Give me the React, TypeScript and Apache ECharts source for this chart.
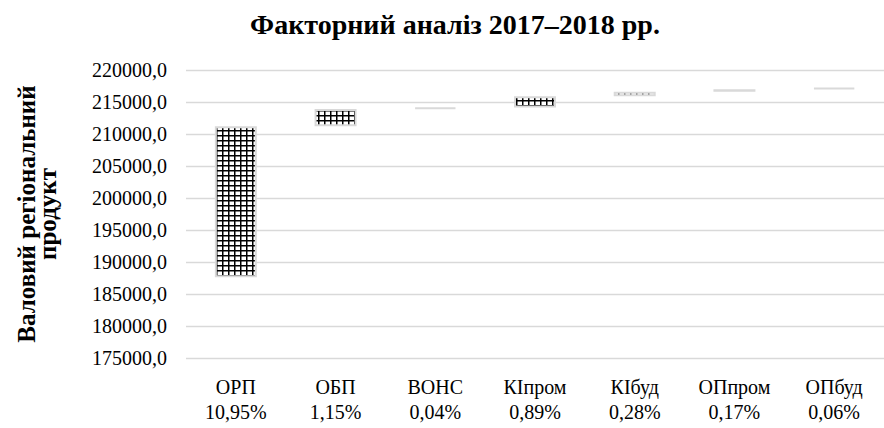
import React, { useEffect, useRef } from 'react';
import * as echarts from 'echarts';

const categories = ['ОРП', 'ОБП', 'ВОНС', 'КІпром', 'КІбуд', 'ОПпром', 'ОПбуд'];
const shares = ['10,95%', '1,15%', '0,04%', '0,89%', '0,28%', '0,17%', '0,06%'];
const startValue = 187600;
const increments = [23600, 2700, 250, 1750, 700, 400, 250];
const yMin = 175000;
const yMax = 220000;
const yStep = 5000;
const titleText = 'Факторний аналіз 2017–2018 рр.';
const yAxisName = 'Валовий регіональний\nпродукт';

function makeGridPattern(): HTMLCanvasElement {
  const c = document.createElement('canvas');
  c.width = 12;
  c.height = 10;
  const g = c.getContext('2d')!;
  g.fillStyle = '#ffffff';
  g.fillRect(0, 0, 12, 10);
  g.fillStyle = '#000000';
  g.fillRect(0, 0, 3, 10);
  g.fillRect(0, 0, 12, 3);
  return c;
}

export default function App() {
  const ref = useRef<HTMLDivElement>(null);
  useEffect(() => {
    if (!ref.current) return;
    const chart = echarts.init(ref.current, undefined, { renderer: 'svg' });
    const bases: number[] = [];
    let acc = startValue;
    increments.forEach((v) => {
      bases.push(acc);
      acc += v;
    });
    const pattern = makeGridPattern();
    const font = 'Liberation Serif';
    chart.setOption({
      animation: false,
      backgroundColor: '#ffffff',
      graphic: [
        {
          type: 'text',
          x: 455,
          y: 24,
          style: {
            text: titleText,
            textAlign: 'center',
            textVerticalAlign: 'middle',
            fontFamily: font,
            fontSize: 28,
            fontWeight: 'bold',
            fill: '#000000',
          },
        },
      ],
      grid: { left: 186, top: 70, width: 708, height: 288 },
      xAxis: {
        type: 'category',
        data: categories,
        axisLine: { show: false },
        axisTick: { show: false },
        axisLabel: {
          interval: 0,
          margin: 16,
          fontFamily: font,
          fontSize: 20,
          lineHeight: 25,
          color: '#000000',
          formatter: (v: string, i: number) => `${v}\n${shares[i]}`,
        },
      },
      yAxis: {
        type: 'value',
        min: yMin,
        max: yMax,
        interval: yStep,
        name: yAxisName,
        nameLocation: 'middle',
        nameRotate: 90,
        nameGap: 128,
        nameTextStyle: {
          fontFamily: font,
          fontSize: 25,
          fontWeight: 'bold',
          lineHeight: 21,
          color: '#000000',
        },
        axisLine: { show: false },
        axisTick: { show: false },
        splitLine: { lineStyle: { color: '#d9d9d9', width: 1.3 } },
        axisLabel: {
          margin: 19,
          fontFamily: font,
          fontSize: 20,
          color: '#000000',
          formatter: (v: number) => v.toFixed(1).replace('.', ','),
        },
      },
      series: [
        {
          type: 'bar',
          stack: 'w',
          barWidth: 42,
          silent: true,
          data: bases,
          itemStyle: { color: 'rgba(0,0,0,0)' },
        },
        {
          type: 'bar',
          stack: 'w',
          barWidth: 42,
          data: increments.map((v) => ({
            value: v,
            itemStyle: v < 500 ? { color: '#d9d9d9' } : undefined,
          })),
          itemStyle: {
            color: { image: pattern, repeat: 'repeat', imageWidth: 6, imageHeight: 5 },
            borderColor: '#d9d9d9',
            borderWidth: 2,
          },
        },
      ],
    });
    return () => chart.dispose();
  }, []);
  return (
    <div
      ref={ref}
      style={{ position: 'fixed', left: 0, top: 0, width: 884, height: 428, background: '#fff' }}
    />
  );
}
